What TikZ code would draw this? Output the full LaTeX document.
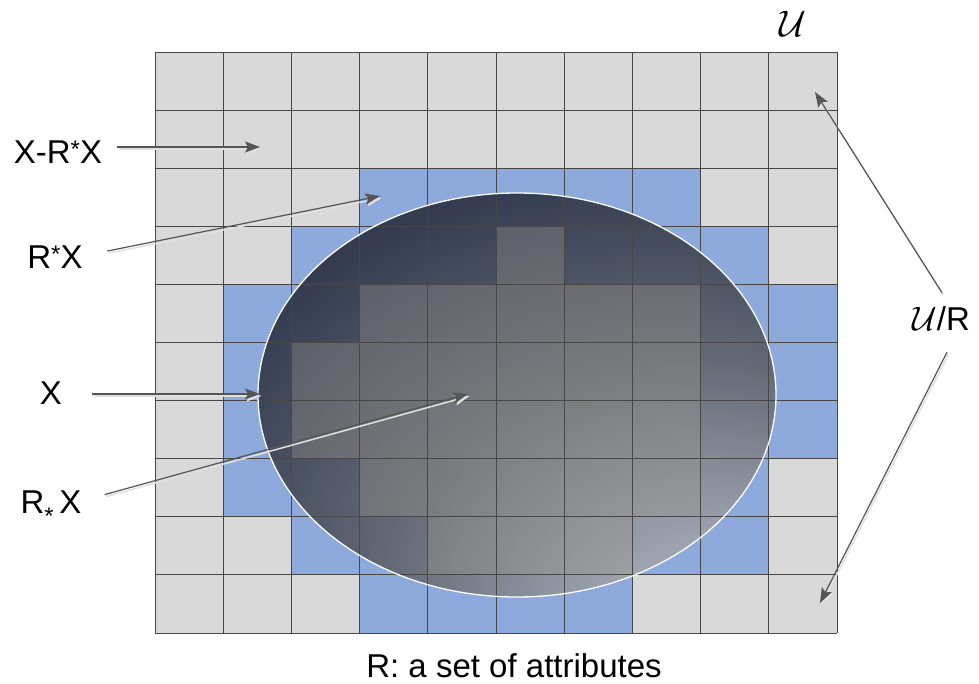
\documentclass[tikz,border=0pt]{standalone}
\usepackage{fontspec}
\setmainfont{Liberation Sans}
\usetikzlibrary{positioning,arrows.meta,calc}

\definecolor{cellgray}{HTML}{D9D9D9}
\definecolor{cellblue}{HTML}{8EA9DB}
\definecolor{linegray}{HTML}{474747}
\definecolor{arrowgray}{HTML}{555555}
\definecolor{elltop}{HTML}{181C29}
\definecolor{elldark}{HTML}{2A2F40}
\definecolor{ellmid}{HTML}{5E6168}
\definecolor{ellbot}{HTML}{D4D7DE}

\pgfdeclareradialshading{ellshade}{\pgfpoint{24bp}{-36bp}}{%
  color(0bp)=(ellbot); color(28bp)=(ellmid); color(43bp)=(elldark);
  color(55bp)=(elltop); color(80bp)=(elltop)}

\newcommand{\upstar}{\raisebox{6pt}{\fontsize{24}{24}\selectfont *}}
\newcommand{\lowstar}{\raisebox{-11pt}{\fontsize{24}{24}\selectfont *}}
\newcommand{\calU}[1]{{\fontsize{10}{12}\selectfont\scalebox{#1}{$\mathcal{U}$}}}

\begin{document}
\begin{tikzpicture}[x=1pt, y=-1pt,
  every node/.style={font=\fontsize{33}{38}\selectfont, inner sep=0pt, text height=24pt, text depth=0pt},
  cell/.style={fill=cellgray},
  boundary/.style={fill=cellblue},
  lower/.style={fill=black!45, fill opacity=0.35},
  gridline/.style={draw=linegray, line width=1pt},
  arr/.style={draw=arrowgray, line width=1.2pt, -{Stealth[length=15pt, width=11pt, inset=3pt]},
    preaction={draw=black!12, line width=1.5pt, transform canvas={shift={(1.5pt,-2pt)}}}}
]
\useasboundingbox (0,0) rectangle (979,683);

% cells of the universe
\begin{scope}[shift={(155,52)}, x=68.2pt, y=-58.1pt]
  \fill[cell] (0,0) rectangle (10,10);
  \foreach \r/\cols in {2/{3,4,5,6,7}, 3/{2,3,4,6,7,8}, 4/{1,2,8,9}, 5/{1,8,9},
                        6/{1,8,9}, 7/{1,2,8}, 8/{2,3,7,8}, 9/{3,4,5,6}}
    \foreach \c in \cols
      \fill[boundary] (\c,\r) rectangle ++(1,1);
\end{scope}

% the set X
\shade[shading=ellshade, fill opacity=0.88]
  (517,395) ellipse [x radius=259pt, y radius=202pt];

\begin{scope}[shift={(155,52)}, x=68.2pt, y=-58.1pt]
  % lower approximation
  \foreach \r/\cols in {3/{5}, 4/{3,4,5,6,7}, 5/{2,3,4,5,6,7}, 6/{2,3,4,5,6,7},
                        7/{3,4,5,6,7}, 8/{4,5,6}}
    \foreach \c in \cols
      \fill[lower] (\c,\r) rectangle ++(1,1);
  \foreach \i in {0,...,10} {
    \draw[gridline] (\i,0) -- (\i,10);
    \draw[gridline] (0,\i) -- (10,\i);
  }
\end{scope}
\draw[white, line width=1.3pt] (517,395) ellipse [x radius=259pt, y radius=202pt];

% labels
\node[anchor=base] (lxr) at (58,163) {X-R\upstar X};
\node[anchor=base] (lrs) at (55,268) {R\upstar X};
\node[anchor=base] (lx) at (51,404) {X};
\node[anchor=base] (lrl) at (51,513) {R\lowstar\,X};
\node[anchor=base] (lu) at (793,36) {\calU{3.7}};
\node[anchor=base] (lur) at (941,330) {\calU{3.4}/R};
\node[anchor=base] (lattr) at (514,677) {R: a set of attributes};

% arrow tips
\coordinate (t1) at (260,147);
\coordinate (t2) at (380,196);
\coordinate (t3) at (815,92);
\coordinate (t4) at (820,603);
\coordinate (t5) at (260,394);
\coordinate (t6) at (468,394);

\draw[arr] (lxr.east |- t1) ++(15,0) -- (t1);
\draw[arr, shorten <=25pt] (lrs.east) -- (t2);
\draw[arr] (lur.north) ++(1,-13) -- (t3);
\draw[arr] (lur.south) ++(6,22) -- (t4);
\draw[arr] (lx.east |- t5) ++(30,0) -- (t5);
\draw[arr, shorten <=24pt] (lrl.east) -- (t6);
\end{tikzpicture}
\end{document}
